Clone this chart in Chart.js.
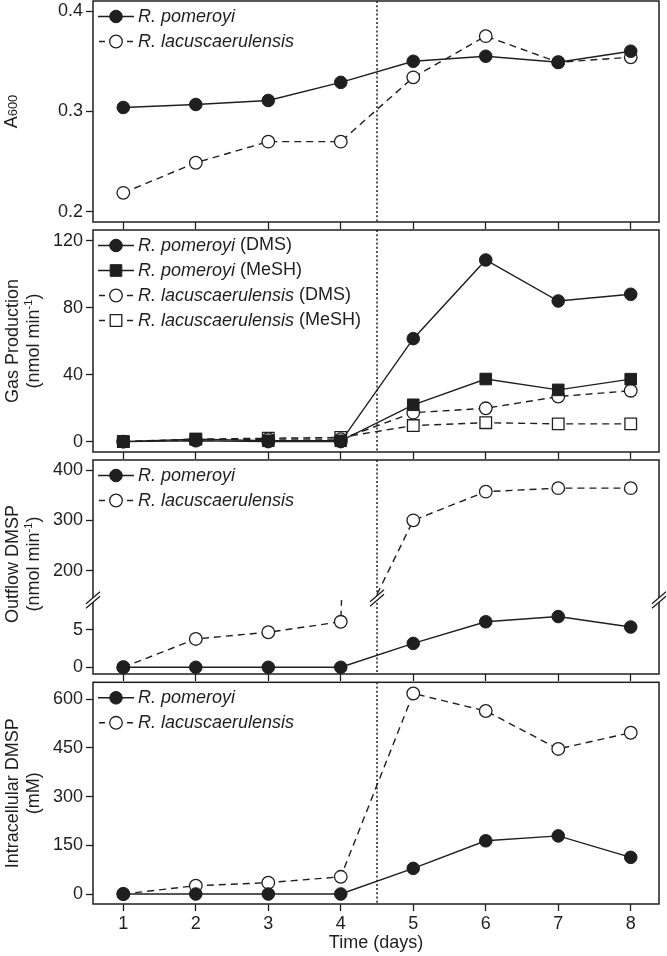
<!DOCTYPE html>
<html><head><meta charset="utf-8">
<script src="https://cdn.jsdelivr.net/npm/chart.js@4.4.1/dist/chart.umd.min.js"></script>
<style>
html,body{margin:0;padding:0;background:#fff;}
#wrap{position:relative;width:667px;height:956px;overflow:hidden;background:#fff;}
canvas{position:absolute;left:0;}
</style></head><body>
<div id="wrap">
<canvas id="c1" width="667" height="230" style="top:0px"></canvas>
<canvas id="c2" width="667" height="231" style="top:229px"></canvas>
<canvas id="c3" width="667" height="223" style="top:459px"></canvas>
<canvas id="c4" width="667" height="275" style="top:681px"></canvas>
</div>
<script>
// ---------------- data ----------------
const days = [1, 2, 3, 4, 5, 6, 7, 8];
const xTicks = [1, 2, 3, 4, 5, 6, 7, 8];
const divider = 4.5;
const nameA = 'R. pomeroyi';
const nameB = 'R. lacuscaerulensis';

const a600Pomeroyi = [0.304, 0.307, 0.311, 0.329, 0.350, 0.355, 0.349, 0.360];
const a600Lacus    = [0.219, 0.249, 0.270, 0.270, 0.334, 0.375, 0.349, 0.354];
const a600Ticks    = [0.2, 0.3, 0.4];

const gasPomDMS   = [0, 0.5, 0, 0, 61.5, 108.5, 84, 88];
const gasPomMeSH  = [0, 1.5, 0.5, 0.5, 22, 37.4, 30.9, 37.3];
const gasLacDMS   = [0, 1, 1.5, 1.5, 17.3, 19.9, 26.9, 30.4];
const gasLacMeSH  = [0, 1.5, 2, 2.5, 9.6, 11.3, 10.6, 10.6];
const gasTicks    = [0, 40, 80, 120];

const outPomeroyi = [0, 0, 0, 0, 3.2, 6.1, 6.8, 5.4];
const outLacus    = [0, 3.8, 4.7, 6.1, 300, 357, 364, 364];
const outTicksLow  = [0, 5];
const outTicksHigh = [200, 300, 400];

const intraPomeroyi = [0, 0, 0, 0, 79, 164, 179, 113];
const intraLacus    = [0, 25.6, 35, 53, 618, 564, 447, 497];
const intraTicks    = [0, 150, 300, 450, 600];

// ---------------- styling ----------------
const INK = '#1f1f1f';
const FONT = "'Liberation Sans', Arial, Helvetica, sans-serif";
const SOLID_FILLED_CIRCLE = {dashed:false, filled:true, shape:'circle'};
const SOLID_FILLED_RECT   = {dashed:false, filled:true, shape:'rect'};
const DASH_OPEN_CIRCLE    = {dashed:true, filled:false, shape:'circle'};
const DASH_OPEN_RECT      = {dashed:true, filled:false, shape:'rect'};

function series(label, vals, kind, yAxisID, range) {
  const r = kind.shape === 'rect' ? 8.2 : 6.3;
  return {
    label,
    data: days.map((d, i) => ({x: d, y: vals[i]})),
    yAxisID: yAxisID || 'y',
    borderColor: INK, borderWidth: 1.4,
    borderDash: kind.dashed ? [7, 5] : [],
    pointStyle: kind.shape,
    pointRadius: range ? (c => (c.raw && c.raw.y >= range[0] && c.raw.y <= range[1]) ? r : 0) : r,
    pointHoverRadius: r,
    pointBackgroundColor: kind.filled ? INK : '#fff',
    pointBorderColor: INK,
    pointBorderWidth: kind.filled ? 1 : 1.3,
    fill: false, tension: 0
  };
}

function yScale(min, max, ticks, extra) {
  return Object.assign({
    type: 'linear', position: 'left', min, max,
    afterBuildTicks: s => { s.ticks = ticks.map(v => ({value: v})); },
    ticks: {font: {family: FONT, size: 18}, color: INK, padding: 3, autoSkip: false,
            callback: v => String(v)},
    grid: {drawOnChartArea: false, drawTicks: true, tickLength: 7, tickWidth: 1.3, tickColor: INK},
    border: {display: false},
    afterFit: s => { s.width = 93; s.paddingTop = 0; s.paddingBottom = 0; }
  }, extra || {});
}

function xScale(showLabels, height) {
  return {
    type: 'linear', min: 0.582, max: 8.39,
    afterBuildTicks: s => { s.ticks = xTicks.map(v => ({value: v})); },
    ticks: {display: showLabels, font: {family: FONT, size: 18}, color: INK, padding: 2,
            maxRotation: 0, autoSkip: false, callback: v => String(v)},
    grid: {drawOnChartArea: false, drawTicks: true, tickLength: 7, tickWidth: 1.3, tickColor: INK},
    border: {display: false},
    title: {display: showLabels, text: 'Time (days)', font: {family: FONT, size: 18}, color: INK,
            padding: {top: 0, bottom: 2}},
    afterFit: s => { s.height = height; s.paddingLeft = 0; s.paddingRight = 0; }
  };
}

function drawSymbol(ctx, x0, x1, cy, kind) {
  const cx = (x0 + x1) / 2;
  ctx.save();
  ctx.strokeStyle = INK; ctx.lineWidth = 1.4; ctx.setLineDash([]);
  ctx.beginPath();
  if (kind.dashed) {
    ctx.moveTo(x0 + 1, cy); ctx.lineTo(x0 + 7, cy);
    ctx.moveTo(x1 - 7, cy); ctx.lineTo(x1 - 1, cy);
  } else {
    ctx.moveTo(x0, cy); ctx.lineTo(x1, cy);
  }
  ctx.stroke();
  ctx.fillStyle = kind.filled ? INK : '#fff';
  ctx.lineWidth = kind.filled ? 1 : 1.3;
  ctx.beginPath();
  if (kind.shape === 'rect') ctx.rect(cx - 5.8, cy - 5.8, 11.6, 11.6);
  else ctx.arc(cx, cy, 6.3, 0, Math.PI * 2);
  ctx.fill(); ctx.stroke();
  ctx.restore();
}

function drawRotated(ctx, segs, bx, cy) {
  ctx.save();
  ctx.translate(bx, cy); ctx.rotate(-Math.PI / 2);
  ctx.textBaseline = 'alphabetic'; ctx.fillStyle = INK;
  let total = 0;
  segs.forEach(s => { ctx.font = (s.size || 18) + 'px ' + FONT; s.w = ctx.measureText(s.t).width; total += s.w; });
  let x = -total / 2;
  segs.forEach(s => { ctx.font = (s.size || 18) + 'px ' + FONT; ctx.fillText(s.t, x, s.rise || 0); x += s.w; });
  ctx.restore();
}

function drawBreak(ctx, cx, cy) {
  const dx = 7, dy = 6, g = 2.2;
  ctx.save();
  ctx.fillStyle = '#fff';
  ctx.beginPath();
  ctx.moveTo(cx - dx, cy - g + dy); ctx.lineTo(cx + dx, cy - g - dy);
  ctx.lineTo(cx + dx, cy + g - dy); ctx.lineTo(cx - dx, cy + g + dy);
  ctx.closePath(); ctx.fill();
  ctx.strokeStyle = INK; ctx.lineWidth = 1.3; ctx.setLineDash([]);
  ctx.beginPath();
  ctx.moveTo(cx - dx, cy - g + dy); ctx.lineTo(cx + dx, cy - g - dy);
  ctx.moveTo(cx - dx, cy + g + dy); ctx.lineTo(cx + dx, cy + g - dy);
  ctx.stroke();
  ctx.restore();
}

function panelPlugin(spec) {
  return {
    id: 'panel',
    beforeDatasetsDraw(chart) {
      const {ctx, chartArea: a, scales} = chart;
      const px = scales.x.getPixelForValue(divider);
      ctx.save();
      ctx.strokeStyle = INK; ctx.lineWidth = 1.5; ctx.setLineDash([2, 2.2]);
      ctx.beginPath(); ctx.moveTo(px, a.top); ctx.lineTo(px, a.bottom); ctx.stroke();
      ctx.restore();
    },
    beforeDatasetDraw(chart, args) {
      if (!spec.clipToAxis) return;
      const {ctx, chartArea: a} = chart;
      const ys = args.meta.yScale;
      ctx.save();
      ctx.beginPath(); ctx.rect(a.left, ys.top, a.right - a.left, ys.bottom - ys.top); ctx.clip();
    },
    afterDatasetDraw(chart) {
      if (spec.clipToAxis) chart.ctx.restore();
    },
    afterDraw(chart) {
      const {ctx, chartArea: a, scales} = chart;
      ctx.save();
      ctx.strokeStyle = INK; ctx.lineWidth = 1.5; ctx.setLineDash([]);
      ctx.strokeRect(a.left, a.top, a.right - a.left, a.bottom - a.top);
      ctx.restore();
      if (spec.breakAxis) {
        const by = scales[spec.breakAxis].bottom;
        drawBreak(ctx, a.left, by);
        drawBreak(ctx, a.right, by);
        drawBreak(ctx, scales.x.getPixelForValue(divider), by - 2);
      }
      const cy = (a.top + a.bottom) / 2 + (spec.titleShift || 0);
      spec.title.forEach((segs, i) => drawRotated(ctx, segs, spec.titleX[i], cy));
      spec.legend.forEach((it, i) => {
        const y = a.top + 15.5 + i * 25;
        drawSymbol(ctx, a.left + 5, a.left + 41, y, it.kind);
        ctx.save();
        ctx.fillStyle = INK; ctx.textBaseline = 'middle';
        ctx.font = 'italic 18px ' + FONT;
        ctx.fillText(it.name, a.left + 45, y);
        if (it.suffix) {
          const w = ctx.measureText(it.name).width;
          ctx.font = '18px ' + FONT;
          ctx.fillText(' ' + it.suffix, a.left + 45 + w, y);
        }
        ctx.restore();
      });
    }
  };
}

function makeChart(id, datasets, scales, padTop, spec) {
  return new Chart(document.getElementById(id), {
    type: 'line',
    data: {datasets},
    options: {
      responsive: false, animation: false, events: [],
      layout: {autoPadding: false, padding: {top: padTop, right: 8, left: 0, bottom: 0}},
      plugins: {legend: {display: false}, tooltip: {enabled: false}},
      scales
    },
    plugins: [panelPlugin(spec)]
  });
}

const unitLine = [{t: '(nmol min'}, {t: '-1', size: 11, rise: -7}, {t: ')'}];

// Panel 1: A600
makeChart('c1', [
  series(nameA, a600Pomeroyi, SOLID_FILLED_CIRCLE),
  series(nameB, a600Lacus, DASH_OPEN_CIRCLE)
], {x: xScale(false, 8), y: yScale(0.19, 0.41, a600Ticks)}, 1, {
  title: [[{t: 'A'}, {t: '600', size: 13}]], titleX: [17],
  legend: [{name: nameA, kind: SOLID_FILLED_CIRCLE}, {name: nameB, kind: DASH_OPEN_CIRCLE}]
});

// Panel 2: gas production
makeChart('c2', [
  series(nameA + ' (DMS)', gasPomDMS, SOLID_FILLED_CIRCLE),
  series(nameA + ' (MeSH)', gasPomMeSH, SOLID_FILLED_RECT),
  series(nameB + ' (DMS)', gasLacDMS, DASH_OPEN_CIRCLE),
  series(nameB + ' (MeSH)', gasLacMeSH, DASH_OPEN_RECT)
], {x: xScale(false, 8), y: yScale(-6.2, 126.4, gasTicks)}, 1, {
  title: [[{t: 'Gas Production'}], unitLine], titleX: [18, 39],
  legend: [
    {name: nameA, suffix: '(DMS)', kind: SOLID_FILLED_CIRCLE},
    {name: nameA, suffix: '(MeSH)', kind: SOLID_FILLED_RECT},
    {name: nameB, suffix: '(DMS)', kind: DASH_OPEN_CIRCLE},
    {name: nameB, suffix: '(MeSH)', kind: DASH_OPEN_RECT}
  ]
});

// Panel 3: outflow DMSP (broken axis)
const lowRange = [-0.9, 9.02];
const highRange = [141.8, 419.9];
makeChart('c3', [
  series(nameA, outPomeroyi, SOLID_FILLED_CIRCLE, 'yLow', lowRange),
  series(nameB, outLacus, DASH_OPEN_CIRCLE, 'yLow', lowRange),
  series(nameB, outLacus, DASH_OPEN_CIRCLE, 'yHigh', highRange)
], {
  x: xScale(false, 8),
  yLow: yScale(lowRange[0], lowRange[1], outTicksLow, {stack: 'out', stackWeight: 74}),
  yHigh: yScale(highRange[0], highRange[1], outTicksHigh, {stack: 'out', stackWeight: 140})
}, 1, {
  clipToAxis: true, breakAxis: 'yHigh', titleShift: -3,
  title: [[{t: 'Outflow DMSP'}], unitLine], titleX: [18, 39],
  legend: [{name: nameA, kind: SOLID_FILLED_CIRCLE}, {name: nameB, kind: DASH_OPEN_CIRCLE}]
});

// Panel 4: intracellular DMSP
makeChart('c4', [
  series(nameA, intraPomeroyi, SOLID_FILLED_CIRCLE),
  series(nameB, intraLacus, DASH_OPEN_CIRCLE)
], {x: xScale(true, 52), y: yScale(-30.8, 652.4, intraTicks)}, 1.3, {
  title: [[{t: 'Intracellular DMSP'}], [{t: '(mM)'}]], titleX: [18, 39],
  legend: [{name: nameA, kind: SOLID_FILLED_CIRCLE}, {name: nameB, kind: DASH_OPEN_CIRCLE}]
});
</script>
</body></html>
